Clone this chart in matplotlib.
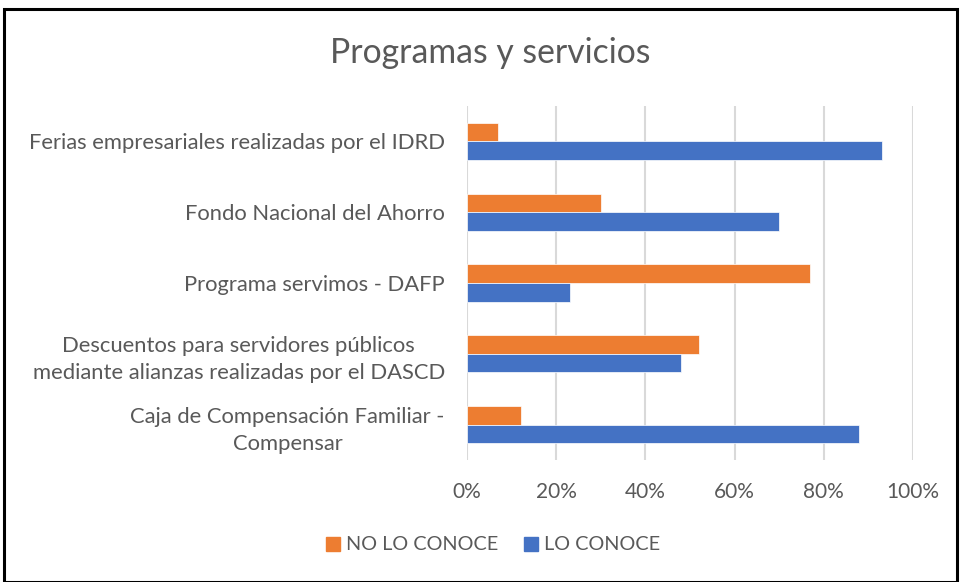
import matplotlib.pyplot as plt
from matplotlib.patches import Rectangle, Patch
from matplotlib.ticker import PercentFormatter

# data (bottom to top, as drawn)
categories = [
    "Caja de Compensación Familiar -\nCompensar",
    "Descuentos para servidores públicos\nmediante alianzas realizadas por el DASCD",
    "Programa servimos - DAFP",
    "Fondo Nacional del Ahorro",
    "Ferias empresariales realizadas por el IDRD",
]
no_lo_conoce = [0.12, 0.52, 0.77, 0.30, 0.07]
lo_conoce = [0.88, 0.48, 0.23, 0.70, 0.93]
ticks = [0, 0.2, 0.4, 0.6, 0.8, 1.0]

orange = "#ED7D31"
blue = "#4472C4"
gray = "#595959"

plt.rcParams["font.family"] = ["Lato", "DejaVu Sans"]

fig = plt.figure(figsize=(9.61, 5.82), dpi=100)
ax = fig.add_axes([467 / 961, 1 - 460 / 582, (913 - 467) / 961, (460 - 106) / 582])

y = list(range(len(categories)))
h = 0.264
ax.barh([v + h / 2 for v in y], no_lo_conoce, height=h, color=orange,
        edgecolor="white", linewidth=0.5, zorder=3)
ax.barh([v - h / 2 for v in y], lo_conoce, height=h, color=blue,
        edgecolor="white", linewidth=0.5, zorder=3)

ax.set_xlim(0, 1.0)
ax.set_ylim(-0.5, len(categories) - 0.5)
ax.set_xticks(ticks)
ax.xaxis.set_major_formatter(PercentFormatter(1.0, decimals=0))
ax.set_yticks(y)
ax.set_yticklabels(categories, multialignment="center", linespacing=1.45)
ax.tick_params(axis="x", length=0, pad=16, labelsize=15, labelcolor=gray)
ax.tick_params(axis="y", length=0, pad=16, labelsize=15.8, labelcolor=gray)
ax.grid(True, axis="x", color="#D9D9D9", linewidth=1.5, zorder=0)
for s in ax.spines.values():
    s.set_visible(False)

fig.text(490 / 961, 1 - 53 / 582, "Programas y servicios", ha="center", va="center",
         fontsize=24.3, color=gray)

handles = [Patch(color=orange, label="NO LO CONOCE"), Patch(color=blue, label="LO CONOCE")]
fig.legend(handles=handles, loc="center", bbox_to_anchor=(493 / 961, 1 - 545 / 582),
           ncol=2, frameon=False, fontsize=14.3, labelcolor=gray, handlelength=0.7,
           handleheight=0.7, handletextpad=0.3, columnspacing=1.3)

# outer border of the chart
fig.patches.append(Rectangle((4 / 961, 0.0), 953 / 961, 1 - 9 / 582,
                             transform=fig.transFigure, fill=False,
                             edgecolor="black", linewidth=2.2))

fig.savefig("out.png", dpi=100)
